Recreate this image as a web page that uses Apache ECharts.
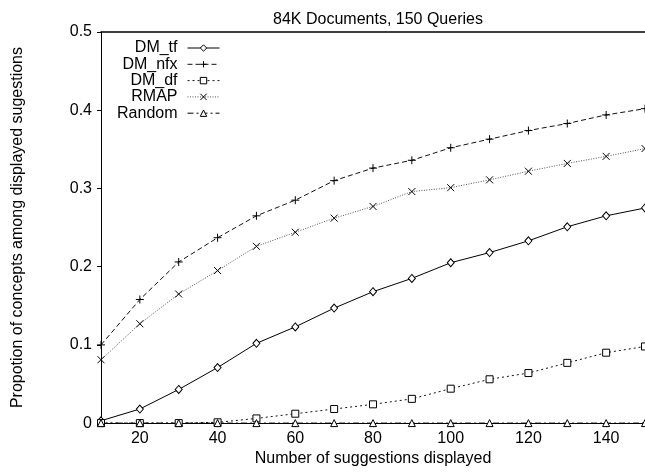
<!DOCTYPE html>
<html>
<head>
<meta charset="utf-8">
<script src="https://cdn.jsdelivr.net/npm/echarts@6/dist/echarts.min.js"></script>
<style>html,body{margin:0;padding:0;background:#fff;}#chart{width:645px;height:472px;}</style>
</head>
<body>
<div id="chart"></div>
<script>
var xValues = [10, 20, 30, 40, 50, 60, 70, 80, 90, 100, 110, 120, 130, 140, 150];
var dmTf  = [0.003, 0.018, 0.043, 0.071, 0.102, 0.123, 0.147, 0.168, 0.185, 0.205, 0.218, 0.233, 0.251, 0.265, 0.275];
var dmNfx = [0.100, 0.158, 0.206, 0.237, 0.265, 0.285, 0.310, 0.326, 0.336, 0.352, 0.363, 0.374, 0.383, 0.394, 0.402];
var dmDf  = [0.000, 0.000, 0.000, 0.001, 0.006, 0.012, 0.018, 0.024, 0.031, 0.044, 0.056, 0.064, 0.077, 0.090, 0.098];
var rmap  = [0.081, 0.127, 0.165, 0.195, 0.226, 0.244, 0.262, 0.277, 0.296, 0.301, 0.311, 0.322, 0.332, 0.341, 0.351];
var randomVals = [0, 0, 0, 0, 0, 0, 0, 0, 0, 0, 0, 0, 0, 0, 0];
var xTicks = [20, 40, 60, 80, 100, 120, 140];
var yTicks = [0, 0.1, 0.2, 0.3, 0.4, 0.5];
var seriesNames = ['DM_tf', 'DM_nfx', 'DM_df', 'RMAP', 'Random'];

function pairs(ys) { return xValues.map(function (x, i) { return [x, ys[i]]; }); }

var FONT = 'Liberation Sans, Arial, sans-serif';
var plusPath = 'path://M0,5L10,5M5,0L5,10';
var crossPath = 'path://M0,0L10,10M10,0L0,10';
var mk = { color: '#fff', borderColor: '#000', borderWidth: 1 };

var chart = echarts.init(document.getElementById('chart'), null, { renderer: 'canvas' });
chart.setOption({
  animation: false,
  backgroundColor: '#fff',
  title: {
    text: '84K Documents, 150 Queries',
    left: 373, top: 7, textAlign: 'center',
    textStyle: { fontFamily: FONT, fontSize: 16, fontWeight: 'normal', color: '#000' }
  },
  grid: { left: 101, right: 0, top: 32, bottom: 43, containLabel: false },
  legend: {
    data: seriesNames,
    orient: 'vertical', align: 'right',
    right: 425, top: 40, padding: 0,
    itemGap: 0.3, itemWidth: 32, itemHeight: 8,
    lineStyle: { width: 1 },
    itemStyle: { borderWidth: 1 },
    textStyle: { fontFamily: FONT, fontSize: 16, color: '#000', padding: [0, 5, 0, 0] }
  },
  xAxis: [{
    type: 'value', min: 10, max: 150,
    name: 'Number of suggestions displayed', nameLocation: 'middle', nameGap: 22,
    nameTextStyle: { fontFamily: FONT, fontSize: 16, color: '#000' },
    axisLine: { show: true, onZero: false, lineStyle: { color: '#000', width: 1 } },
    axisTick: { show: true, length: 4, customValues: xTicks, lineStyle: { color: '#000' } },
    axisLabel: { customValues: xTicks, margin: 7, fontFamily: FONT, fontSize: 16, color: '#000' },
    splitLine: { show: false }
  }, {
    type: 'value', min: 10, max: 150, position: 'top',
    axisLine: { show: true, onZero: false, lineStyle: { color: '#000', width: 1.5 } },
    axisTick: { show: false }, axisLabel: { show: false }, splitLine: { show: false }
  }],
  yAxis: {
    type: 'value', min: 0, max: 0.5, interval: 0.1,
    name: 'Propotion of concepts among displayed sugestions', nameLocation: 'middle', nameGap: 75,
    nameTextStyle: { fontFamily: FONT, fontSize: 16, color: '#000' },
    axisLine: { show: true, onZero: false, lineStyle: { color: '#000', width: 1 } },
    axisTick: { show: true, length: 4, customValues: yTicks, lineStyle: { color: '#000' } },
    axisLabel: { customValues: yTicks, margin: 9, fontFamily: FONT, fontSize: 16, color: '#000' },
    splitLine: { show: false }
  },
  series: [
    { name: 'DM_tf', type: 'line', data: pairs(dmTf), symbol: 'diamond', symbolSize: [7, 8],
      lineStyle: { color: '#000', width: 1, type: 'solid' }, itemStyle: mk },
    { name: 'DM_nfx', type: 'line', data: pairs(dmNfx), symbol: plusPath, symbolSize: 8,
      lineStyle: { color: '#111', width: 1, type: [5, 3] }, itemStyle: mk },
    { name: 'DM_df', type: 'line', data: pairs(dmDf), symbol: 'rect', symbolSize: 7,
      lineStyle: { color: '#111', width: 1, type: [2, 3] }, itemStyle: mk },
    { name: 'RMAP', type: 'line', data: pairs(rmap), symbol: crossPath, symbolSize: 7,
      lineStyle: { color: '#555', width: 1, type: [1, 1.5] }, itemStyle: mk },
    { name: 'Random', type: 'line', data: pairs(randomVals), symbol: 'triangle', symbolSize: 7,
      lineStyle: { color: '#000', width: 1, type: [6, 3, 2, 3] }, itemStyle: mk }
  ]
});
</script>
</body>
</html>
